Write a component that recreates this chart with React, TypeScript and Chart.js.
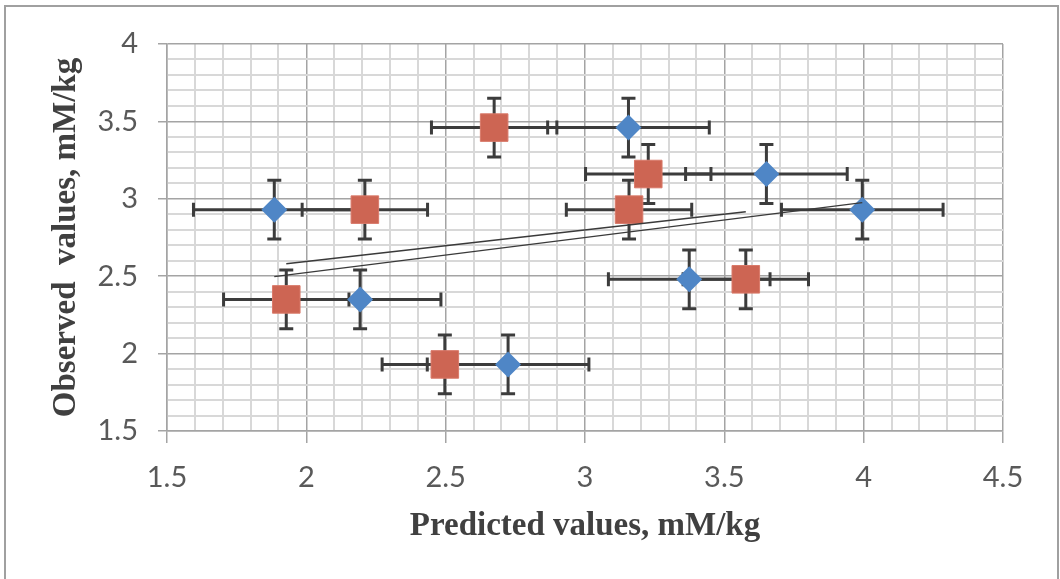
import React, { useEffect, useRef } from 'react';
import { Chart, registerables } from 'chart.js';

Chart.register(...registerables);

// ---- Data ----
const observedValues = [3.46, 3.16, 2.93, 2.93, 2.35, 2.48, 1.93];
const bluePredicted = [3.156, 3.651, 3.995, 1.885, 2.193, 3.374, 2.724];
const redPredicted = [2.674, 3.227, 3.158, 2.21, 1.928, 3.577, 2.497];
const blueXError = 0.29;
const redXError = 0.225;
const observedError = 0.19;
const xTickLabels = ['1.5', '2', '2.5', '3', '3.5', '4', '4.5'];
const yTickLabels = ['1.5', '2', '2.5', '3', '3.5', '4'];
const xTitle = 'Predicted values, mM/kg';
const yTitle = 'Observed  values, mM/kg';

const BLUE = '#4F86C6';
const RED = '#CD6553';
const BAR = '#3C3C3C';
const MAJOR = '#A4A4A4';
const MINOR = '#D8D8D8';

function points(xs: number[], ys: number[]) {
  return xs.map((x, i) => ({ x, y: ys[i] }));
}

function trend(xs: number[], ys: number[]) {
  const n = xs.length;
  const mx = xs.reduce((a, b) => a + b, 0) / n;
  const my = ys.reduce((a, b) => a + b, 0) / n;
  let sxy = 0;
  let sxx = 0;
  for (let i = 0; i < n; i++) {
    sxy += (xs[i] - mx) * (ys[i] - my);
    sxx += (xs[i] - mx) * (xs[i] - mx);
  }
  const slope = sxy / sxx;
  const x0 = Math.min(...xs);
  const x1 = Math.max(...xs);
  return [
    { x: x0, y: my + slope * (x0 - mx) },
    { x: x1, y: my + slope * (x1 - mx) },
  ];
}

function isMajor(v: number) {
  return Math.abs(v * 2 - Math.round(v * 2)) < 1e-6;
}

function labelFor(v: number, labels: string[]) {
  if (!isMajor(v)) return '';
  const s = String(Math.round(v * 10) / 10);
  return labels.includes(s) ? s : '';
}

const errorBarPlugin = {
  id: 'errorBars',
  beforeDatasetsDraw(chart: any) {
    const { ctx } = chart;
    const xs = chart.scales.x;
    const ys = chart.scales.y;
    ctx.save();
    ctx.strokeStyle = BAR;
    ctx.lineWidth = 3;
    ctx.lineCap = 'butt';
    const cap = 7;
    chart.data.datasets.forEach((ds: any) => {
      if (!ds.errorBars) return;
      ds.data.forEach((p: any) => {
        const px = xs.getPixelForValue(p.x);
        const py = ys.getPixelForValue(p.y);
        const xl = xs.getPixelForValue(p.x - ds.errorBars.x);
        const xr = xs.getPixelForValue(p.x + ds.errorBars.x);
        const yt = ys.getPixelForValue(p.y + ds.errorBars.y);
        const yb = ys.getPixelForValue(p.y - ds.errorBars.y);
        ctx.beginPath();
        ctx.moveTo(xl, py);
        ctx.lineTo(xr, py);
        ctx.moveTo(xl, py - cap);
        ctx.lineTo(xl, py + cap);
        ctx.moveTo(xr, py - cap);
        ctx.lineTo(xr, py + cap);
        ctx.moveTo(px, yt);
        ctx.lineTo(px, yb);
        ctx.moveTo(px - cap, yt);
        ctx.lineTo(px + cap, yt);
        ctx.moveTo(px - cap, yb);
        ctx.lineTo(px + cap, yb);
        ctx.stroke();
      });
    });
    ctx.restore();
  },
};

const framePlugin = {
  id: 'frame',
  beforeDraw(chart: any) {
    const { ctx, width, height } = chart;
    ctx.save();
    ctx.fillStyle = '#ffffff';
    ctx.fillRect(0, 0, width, height);
    ctx.strokeStyle = '#A0A0A0';
    ctx.lineWidth = 2;
    ctx.beginPath();
    ctx.moveTo(5, height);
    ctx.lineTo(5, 6);
    ctx.lineTo(1058, 6);
    ctx.lineTo(1058, height);
    ctx.stroke();
    ctx.restore();
  },
};

export default function App() {
  const ref = useRef<HTMLCanvasElement>(null);

  useEffect(() => {
    if (!ref.current) return;
    const tickFont = { family: 'Lato', size: 29 };
    const titleFont = { family: 'Liberation Serif', size: 33, weight: 'bold' as const };
    const chart = new Chart(ref.current, {
      type: 'scatter',
      data: {
        datasets: [
          {
            label: 'trend blue',
            data: trend(bluePredicted, observedValues),
            showLine: true,
            borderColor: '#3A3A3A',
            borderWidth: 1.3,
            pointRadius: 0,
            order: 0,
          } as any,
          {
            label: 'trend red',
            data: trend(redPredicted, observedValues),
            showLine: true,
            borderColor: '#3A3A3A',
            borderWidth: 1.3,
            pointRadius: 0,
            order: 0,
          } as any,
          {
            label: 'blue',
            data: points(bluePredicted, observedValues),
            pointStyle: 'rectRot',
            pointRadius: 13,
            backgroundColor: BLUE,
            borderColor: BLUE,
            borderWidth: 0,
            errorBars: { x: blueXError, y: observedError },
            order: 2,
          } as any,
          {
            label: 'red',
            data: points(redPredicted, observedValues),
            pointStyle: 'rect',
            pointRadius: 19.5,
            backgroundColor: RED,
            borderColor: '#D97A6A',
            borderWidth: 1,
            errorBars: { x: redXError, y: observedError },
            order: 1,
          } as any,
        ],
      },
      options: {
        responsive: false,
        animation: false,
        layout: { padding: { top: 44, right: 57, left: 0, bottom: 0 } },
        plugins: {
          legend: { display: false },
          tooltip: { enabled: false },
        },
        scales: {
          x: {
            type: 'linear',
            min: 1.5,
            max: 4.5,
            afterFit: (s: any) => {
              s.height = 148;
            },
            ticks: {
              stepSize: 0.1,
              autoSkip: false,
              maxRotation: 0,
              padding: 17,
              color: '#595959',
              font: tickFont,
              callback: (v: any) => labelFor(Number(v), xTickLabels),
            },
            grid: {
              color: (c: any) => (c.tick && isMajor(c.tick.value) ? MAJOR : MINOR),
              lineWidth: (c: any) => (c.tick && isMajor(c.tick.value) ? 1.5 : 2),
              tickLength: 12,
              tickColor: (c: any) => (c.tick && isMajor(c.tick.value) ? MAJOR : 'rgba(0,0,0,0)'),
              tickWidth: 1.5,
            },
            border: { color: MAJOR, width: 1.5 },
            title: {
              display: true,
              text: xTitle,
              color: '#404040',
              font: titleFont,
              padding: { top: 0, bottom: 33 },
            },
          },
          y: {
            type: 'linear',
            min: 1.5,
            max: 4,
            afterFit: (s: any) => {
              s.width = 167;
            },
            ticks: {
              stepSize: 0.1,
              autoSkip: false,
              padding: 20,
              color: '#595959',
              font: tickFont,
              callback: (v: any) => labelFor(Number(v), yTickLabels),
            },
            grid: {
              color: (c: any) => (c.tick && isMajor(c.tick.value) ? MAJOR : MINOR),
              lineWidth: (c: any) => (c.tick && isMajor(c.tick.value) ? 1.5 : 2),
              tickLength: 9,
              tickColor: (c: any) => (c.tick && isMajor(c.tick.value) ? MAJOR : 'rgba(0,0,0,0)'),
              tickWidth: 1.5,
            },
            border: { color: MAJOR, width: 1.5 },
            title: {
              display: true,
              text: yTitle,
              color: '#404040',
              font: titleFont,
              padding: { top: 47, bottom: 0 },
            },
          },
        },
      },
      plugins: [framePlugin, errorBarPlugin],
    });
    return () => chart.destroy();
  }, []);

  return (
    <div
      style={{
        position: 'fixed',
        left: 0,
        top: 0,
        width: 1060,
        height: 579,
        background: '#ffffff',
      }}
    >
      <canvas ref={ref} width={1060} height={579} style={{ display: 'block', width: 1060, height: 579 }} />
    </div>
  );
}
